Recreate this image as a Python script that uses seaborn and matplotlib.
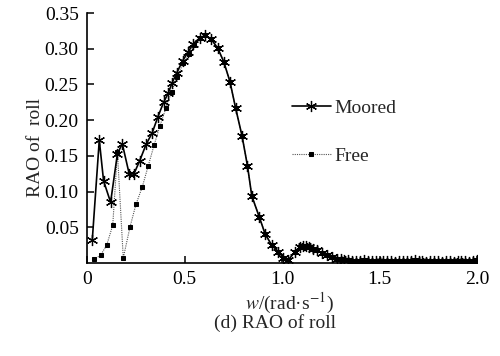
import matplotlib
matplotlib.use("Agg")
import matplotlib.pyplot as plt
import seaborn as sns
import pandas as pd

# ---- data ----
w_moored = [0.027, 0.063, 0.085, 0.121, 0.156, 0.181, 0.217, 0.241, 0.270, 0.303,
            0.334, 0.364, 0.393, 0.417, 0.436, 0.460, 0.490, 0.520, 0.545, 0.578,
            0.607, 0.638, 0.670, 0.701, 0.733, 0.762, 0.795, 0.823, 0.845, 0.884,
            0.913, 0.947, 0.981, 1.007, 1.032, 1.067, 1.090, 1.109, 1.125, 1.140,
            1.160, 1.180, 1.205, 1.230, 1.255, 1.280, 1.300, 1.320, 1.340, 1.360,
            1.380, 1.400, 1.420, 1.440, 1.460, 1.480, 1.500, 1.520, 1.540, 1.560,
            1.580, 1.600, 1.620, 1.640, 1.660, 1.680, 1.700, 1.720, 1.740, 1.760,
            1.780, 1.800, 1.820, 1.840, 1.860, 1.880, 1.900, 1.920, 1.940, 1.960,
            1.980, 2.000]
rao_moored = [0.032, 0.172, 0.115, 0.085, 0.153, 0.167, 0.124, 0.125, 0.143, 0.166,
              0.182, 0.205, 0.225, 0.238, 0.252, 0.266, 0.283, 0.296, 0.307, 0.315,
              0.319, 0.313, 0.301, 0.282, 0.254, 0.217, 0.178, 0.136, 0.094, 0.064,
              0.041, 0.025, 0.016, 0.007, 0.004, 0.016, 0.022, 0.024, 0.024, 0.023,
              0.020, 0.018, 0.014, 0.011, 0.008, 0.006, 0.005, 0.004, 0.004, 0.003,
              0.003, 0.003, 0.004, 0.003, 0.003, 0.003, 0.002, 0.003, 0.003, 0.003,
              0.002, 0.003, 0.003, 0.003, 0.003, 0.004, 0.003, 0.003, 0.002, 0.003,
              0.003, 0.003, 0.002, 0.003, 0.003, 0.002, 0.003, 0.003, 0.003, 0.002,
              0.003, 0.004]

w_free_low = [0.036, 0.070, 0.101, 0.132, 0.156, 0.186, 0.221, 0.251, 0.284, 0.314,
              0.344, 0.374, 0.405, 0.434, 0.463, 0.494, 0.524, 0.550]
rao_free_low = [0.005, 0.011, 0.025, 0.053, 0.155, 0.007, 0.051, 0.082, 0.107, 0.136,
                0.165, 0.192, 0.217, 0.240, 0.261, 0.280, 0.293, 0.305]
# above ~0.56 rad/s the free curve coincides with the moored one
w_free = w_free_low + w_moored[19:]
rao_free = rao_free_low + rao_moored[19:]

x_ticks = [0, 0.5, 1.0, 1.5, 2.0]
x_tick_labels = ["0", "0.5", "1.0", "1.5", "2.0"]
y_ticks = [0.05, 0.10, 0.15, 0.20, 0.25, 0.30, 0.35]
y_tick_labels = ["0.05", "0.10", "0.15", "0.20", "0.25", "0.30", "0.35"]

sns.set_theme(style="ticks")
plt.rcParams["font.family"] = ["Liberation Serif", "DejaVu Serif"]
plt.rcParams["mathtext.fontset"] = "stix"

fig = plt.figure(figsize=(5.0, 3.56), dpi=100)
ax = fig.add_axes([87 / 500, 1 - 263 / 356, 390 / 500, 250 / 356])

df_m = pd.DataFrame({"w": w_moored, "rao": rao_moored})
df_f = pd.DataFrame({"w": w_free, "rao": rao_free})

sns.lineplot(data=df_f, x="w", y="rao", ax=ax, sort=False, color="#555555",
             linestyle=(0, (1, 1)), linewidth=0.8, marker="s", markersize=3,
             markerfacecolor="black", markeredgecolor="black", label="Free", zorder=2)
sns.lineplot(data=df_m, x="w", y="rao", ax=ax, sort=False, color="black",
             linewidth=1.2, marker=(6, 2, 0), markersize=8, markeredgewidth=0.9,
             markeredgecolor="black", markerfacecolor="black",
             label="Moored", zorder=3)

ax.set_xlim(0, 2.0)
ax.set_ylim(0, 0.35)
ax.set_xticks(x_ticks)
ax.set_xticklabels(x_tick_labels)
ax.set_yticks(y_ticks)
ax.set_yticklabels(y_tick_labels)
ax.tick_params(direction="in", length=5, width=1.1, labelsize=14, colors="black", pad=6)
for s in ["top", "right"]:
    ax.spines[s].set_visible(False)
for s in ["left", "bottom"]:
    ax.spines[s].set_linewidth(1.2)
    ax.spines[s].set_color("black")
ax.set_xlabel("")
ax.set_ylabel("")

handles, labels = ax.get_legend_handles_labels()
order = [labels.index("Moored"), labels.index("Free")]
ax.legend([handles[i] for i in order], [labels[i] for i in order],
          loc="upper left", bbox_to_anchor=(0.525, 0.655), frameon=False,
          fontsize=14, handlelength=2.0, handletextpad=0.2, labelspacing=1.55,
          borderpad=0, borderaxespad=0)

fig.text(36 / 500, 1 - 147 / 356, "RAO of  roll", rotation=90, fontsize=14,
         ha="center", va="center")
fig.text(290 / 500, 1 - 303 / 356, "$w$/(rad·s$^{-1}$)", fontsize=14,
         ha="center", va="center")
fig.text(275 / 500, 1 - 323 / 356, "(d) RAO of roll", fontsize=14,
         ha="center", va="center")

fig.savefig("out.png", dpi=100)
